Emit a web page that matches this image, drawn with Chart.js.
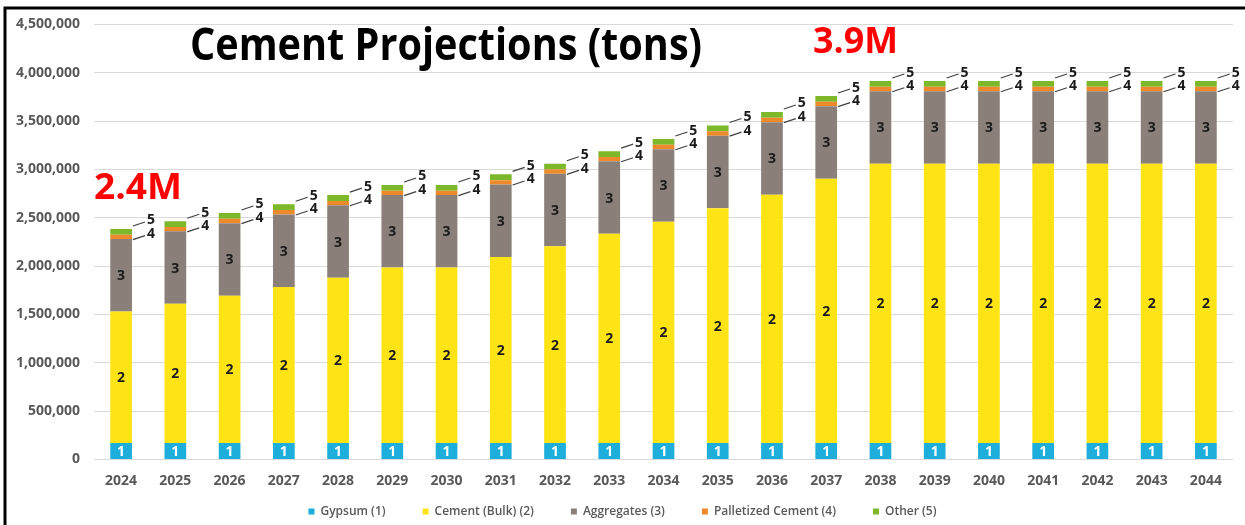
<!DOCTYPE html>
<html>
<head>
<meta charset="utf-8">
<script src="https://cdn.jsdelivr.net/npm/chart.js@4.4.1/dist/chart.umd.min.js"></script>
<style>
  html, body { margin: 0; padding: 0; background: #fff; }
  #wrap { width: 1245px; height: 525px; }
</style>
</head>
<body>
<div id="wrap"><canvas id="myChart" width="1245" height="525"></canvas></div>
<script>
const years = ['2024', '2025', '2026', '2027', '2028', '2029', '2030', '2031', '2032', '2033', '2034',
               '2035', '2036', '2037', '2038', '2039', '2040', '2041', '2042', '2043', '2044'];

const gypsum = [170000, 170000, 170000, 170000, 170000, 170000, 170000, 170000, 170000, 170000, 170000,
                170000, 170000, 170000, 170000, 170000, 170000, 170000, 170000, 170000, 170000];
const cementBulk = [1360000, 1440000, 1525000, 1615000, 1710000, 1815000, 1815000, 1925000, 2035000, 2165000, 2290000,
                    2430000, 2570000, 2735000, 2890000, 2890000, 2890000, 2890000, 2890000, 2890000, 2890000];
const aggregates = [750000, 750000, 750000, 750000, 750000, 750000, 750000, 750000, 750000, 750000, 750000,
                    750000, 750000, 750000, 750000, 750000, 750000, 750000, 750000, 750000, 750000];
const palletized = [45000, 45000, 45000, 45000, 45000, 45000, 45000, 45000, 45000, 45000, 45000,
                    45000, 45000, 45000, 45000, 45000, 45000, 45000, 45000, 45000, 45000];
const other = [60000, 60000, 60000, 60000, 60000, 60000, 60000, 60000, 60000, 60000, 60000,
               60000, 60000, 60000, 60000, 60000, 60000, 60000, 60000, 60000, 60000];

const seriesNames = ['Gypsum (1)', 'Cement (Bulk) (2)', 'Aggregates (3)', 'Palletized Cement (4)', 'Other (5)'];
const segmentTags = ['1', '2', '3', '4', '5'];
const yTicks = [0, 500000, 1000000, 1500000, 2000000, 2500000, 3000000, 3500000, 4000000, 4500000];
const chartTitle = 'Cement Projections (tons)';

const colors = ['#1eaedc', '#ffe415', '#8a8079', '#ef8a2c', '#7db82a'];
const FONT = '"Open Sans", "Liberation Sans", sans-serif';

const totals = years.map((y, i) => gypsum[i] + cementBulk[i] + aggregates[i] + palletized[i] + other[i]);
const fmtM = v => (v / 1000000).toFixed(1) + 'M';

// draws text squeezed/stretched into a given width (reference uses a narrow font)
const fitText = (ctx, text, left, baseline, width, font, color) => {
    ctx.save();
    ctx.font = font;
    ctx.fillStyle = color;
    ctx.textAlign = 'left';
    ctx.textBaseline = 'alphabetic';
    const w = ctx.measureText(text).width;
    ctx.translate(left, baseline);
    ctx.scale(width / w, 1);
    ctx.fillText(text, 0, 0);
    ctx.restore();
};

const frameAndNotes = {
    id: 'frameAndNotes',
    afterLayout: (chart) => {
        // let the year labels spill below the x box instead of being clipped
        chart.scales.x.bottom = chart.height;
    },
    beforeDraw: (chart) => {
        const ctx = chart.ctx;
        ctx.save();
        ctx.fillStyle = '#fff';
        ctx.fillRect(0, 0, chart.width, chart.height);
        ctx.restore();
    },
    afterDraw: (chart) => {
        const ctx = chart.ctx;
        ctx.save();
        ctx.strokeStyle = '#000';
        ctx.lineWidth = 3;
        ctx.beginPath();
        ctx.moveTo(5, chart.height);
        ctx.lineTo(5, 8);
        ctx.lineTo(chart.width, 8);
        ctx.stroke();
        ctx.restore();

        fitText(ctx, chartTitle, 190, 60, 512, `bold 45px ${FONT}`, '#000');
        fitText(ctx, fmtM(totals[0]), 94, 199, 88, `bold 36px ${FONT}`, '#ff0000');
        fitText(ctx, fmtM(Math.max(...totals)), 813, 53, 85, `bold 36px ${FONT}`, '#ff0000');
    }
};

const segmentLabels = {
    id: 'segmentLabels',
    afterDatasetsDraw: (chart) => {
        const ctx = chart.ctx;
        ctx.save();
        ctx.font = `bold 14px ${FONT}`;
        ctx.textBaseline = 'middle';
        ctx.strokeStyle = '#404040';
        ctx.lineWidth = 1.2;
        chart.data.datasets.forEach((ds, i) => {
            const meta = chart.getDatasetMeta(i);
            meta.data.forEach(bar => {
                if (i < 3) {
                    ctx.textAlign = 'center';
                    ctx.fillStyle = i === 0 ? '#fff' : '#1a1a1a';
                    ctx.fillText(segmentTags[i], bar.x, (bar.y + bar.base) / 2 + 1);
                } else {
                    const right = bar.x + bar.width / 2;
                    const y0 = i === 3 ? bar.base + 0.5 : bar.y - 3;
                    ctx.beginPath();
                    ctx.moveTo(right + 1, y0);
                    ctx.lineTo(right + 13, y0 - 4);
                    ctx.stroke();
                    ctx.textAlign = 'left';
                    ctx.fillStyle = '#1a1a1a';
                    ctx.fillText(segmentTags[i], right + 15, y0 - 5.5);
                }
            });
        });
        ctx.restore();
    }
};

const seriesData = [gypsum, cementBulk, aggregates, palletized, other];

const ctx = document.getElementById('myChart').getContext('2d');
const myChart = new Chart(ctx, {
    type: 'bar',
    data: {
        labels: years,
        datasets: seriesData.map((values, i) => ({
            label: seriesNames[i],
            data: values,
            backgroundColor: colors[i],
            borderWidth: 0,
            barPercentage: 0.8,
            categoryPercentage: 0.5
        }))
    },
    options: {
        responsive: false,
        animation: false,
        devicePixelRatio: 1,
        layout: { padding: { left: 12, right: 12, top: 24.5, bottom: 0 } },
        plugins: {
            legend: {
                position: 'bottom',
                maxHeight: 56.5,
                labels: {
                    boxWidth: 6,
                    boxHeight: 6,
                    padding: 37,
                    color: '#595959',
                    font: { family: FONT, size: 12, weight: '600' }
                }
            },
            tooltip: { enabled: false },
            title: { display: false }
        },
        scales: {
            x: {
                stacked: true,
                grid: { display: false },
                border: { display: false },
                ticks: {
                    color: '#595959',
                    padding: 5.5,
                    maxRotation: 0,
                    autoSkip: false,
                    font: { family: FONT, size: 14, weight: 'bold' }
                },
                afterFit: (scale) => { scale.height = 9; }
            },
            y: {
                stacked: true,
                min: yTicks[0],
                max: yTicks[yTicks.length - 1],
                afterBuildTicks: (scale) => { scale.ticks = yTicks.map(v => ({ value: v })); },
                grid: { color: '#d9d9d9', drawTicks: false },
                border: { display: false },
                ticks: {
                    color: '#595959',
                    padding: 14,
                    font: { family: FONT, size: 14, weight: 'bold' },
                    callback: (v) => v.toLocaleString('en-US')
                },
                afterFit: (scale) => { scale.width = 82; }
            }
        }
    },
    plugins: [frameAndNotes, segmentLabels]
});
</script>
</body>
</html>
